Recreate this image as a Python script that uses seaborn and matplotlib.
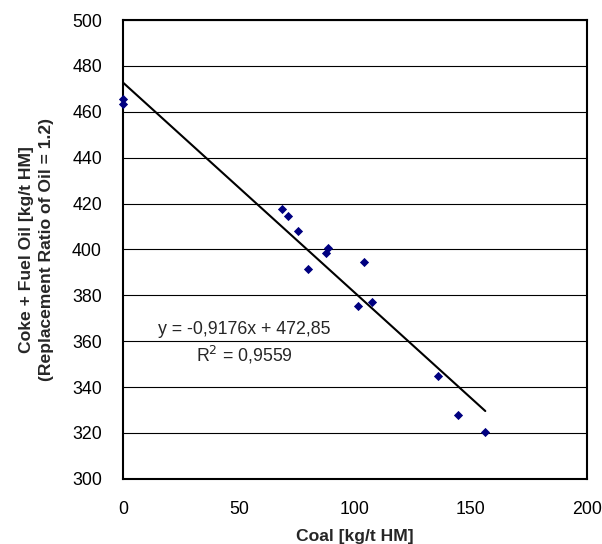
import numpy as np
import pandas as pd
import matplotlib
matplotlib.use('Agg')
import matplotlib.pyplot as plt
import seaborn as sns

# data
coal = [0, 0, 68.5, 71.0, 75.6, 79.7, 87.5, 88.5, 101.4, 103.9, 107.5, 135.8, 144.5, 156.2]
coke_oil = [465.4, 463.4, 417.5, 414.7, 408.2, 391.5, 398.5, 400.8, 375.2, 394.7, 377.0, 344.6, 327.6, 320.2]

slope = -0.9176
intercept = 472.85
r2_text = '0,9559'

df = pd.DataFrame({'Coal': coal, 'Coke': coke_oil})

sns.set_style('white')
plt.rcParams['font.family'] = ['Liberation Sans', 'DejaVu Sans']

fig, ax = plt.subplots(figsize=(6.02, 5.44), dpi=100)
fig.subplots_adjust(left=0.204, right=0.975, top=0.963, bottom=0.12)

# trend line from the fitted equation
xfit = np.array([df['Coal'].min(), df['Coal'].max()])
fit = pd.DataFrame({'x': xfit, 'y': slope * xfit + intercept})
sns.lineplot(data=fit, x='x', y='y', color='black', linewidth=1.5, ax=ax, zorder=3)

sns.scatterplot(data=df, x='Coal', y='Coke', marker='D', s=22, color='#000080',
                edgecolor='#000080', linewidth=0, ax=ax, zorder=4, clip_on=False)

ax.set_xlim(0, 200)
ax.set_ylim(300, 500)
ax.set_xticks([0, 50, 100, 150, 200])
ax.set_yticks(np.arange(300, 501, 20))
ax.yaxis.grid(True, color='black', linewidth=0.8)
ax.xaxis.grid(False)
for s in ax.spines.values():
    s.set_color('black')
    s.set_linewidth(1.5)
ax.tick_params(axis='both', direction='out', length=5, width=1, color='black',
               labelsize=12.8, labelcolor='black')
ax.tick_params(axis='y', pad=10)
ax.tick_params(axis='x', pad=11)

ax.set_xlabel('Coal [kg/t HM]', fontsize=12.6, fontweight='bold', labelpad=8)
ax.set_ylabel('Coke + Fuel Oil [kg/t HM]\n(Replacement Ratio of Oil = 1.2)',
              fontsize=12.6, fontweight='bold', labelpad=13, linespacing=1.4)

ax.text(52.5, 365, 'y = -0,9176x + 472,85', fontsize=12.8, ha='center', va='center')
ax.text(52.5, 354, 'R$^2$ = ' + r2_text, fontsize=12.8, ha='center', va='center')

fig.savefig('out.png', dpi=100)
